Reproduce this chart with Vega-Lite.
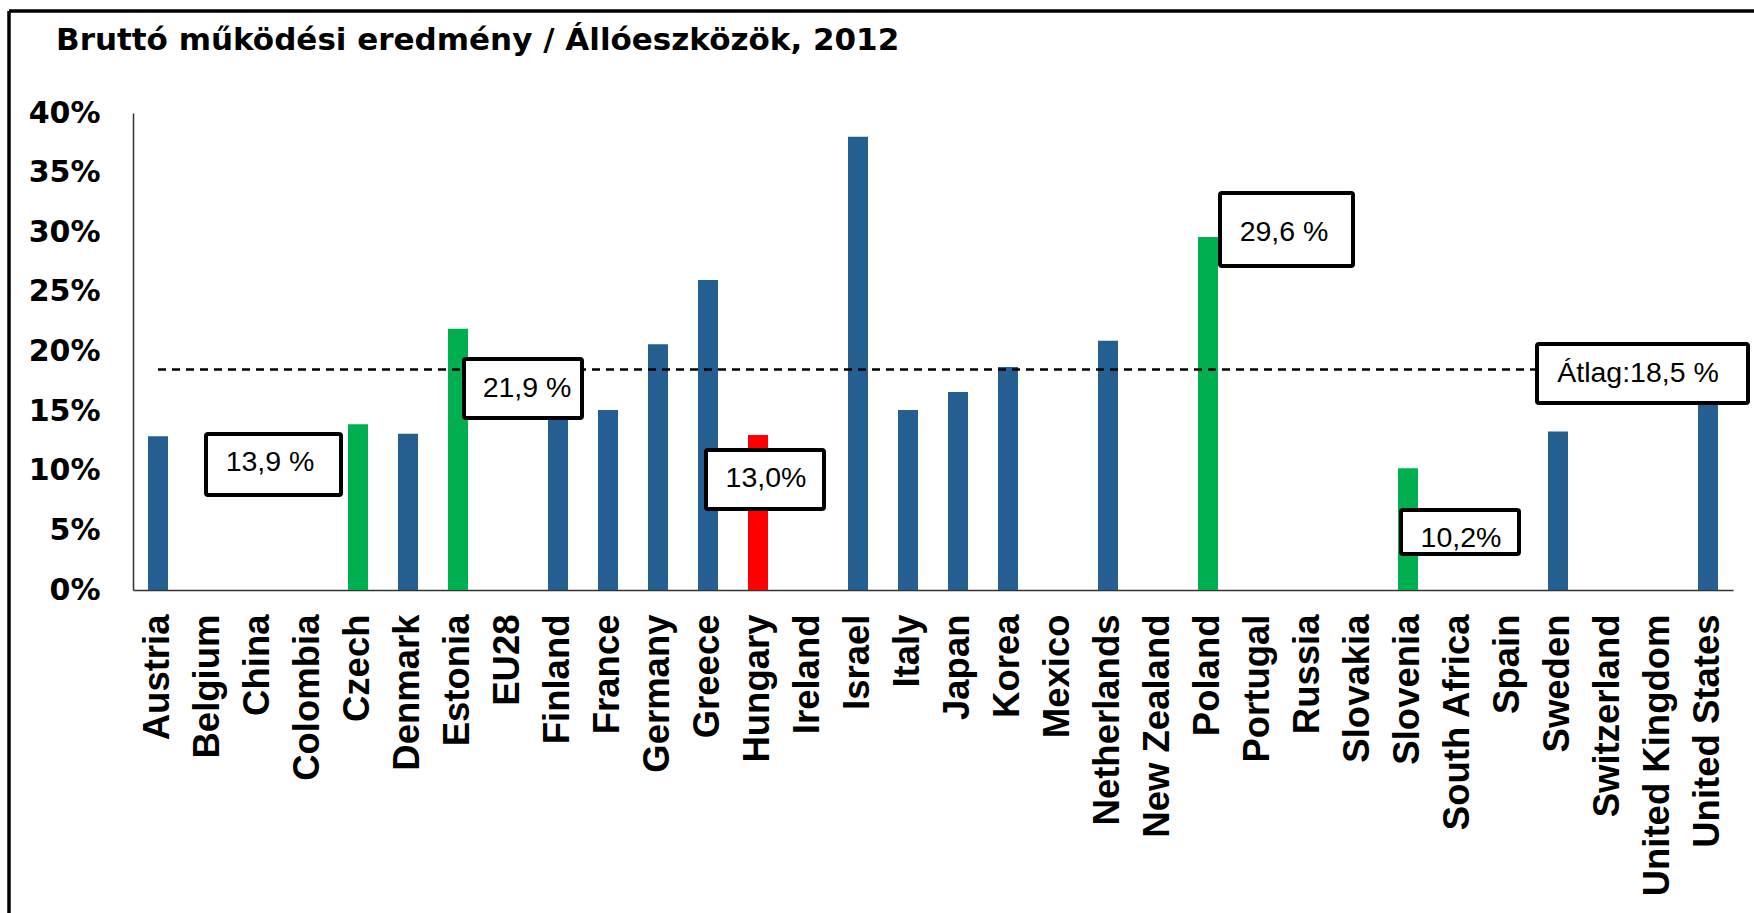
{
  "$schema": "https://vega.github.io/schema/vega-lite/v6.json",
  "autosize": {"type": "none"},
  "padding": {"left": 133, "top": 113, "right": 21, "bottom": 323},
  "width": 1600,
  "height": 477,
  "background": "#ffffff",
  "config": {"view": {"stroke": null}},
  "title": {
    "text": "Bruttó működési eredmény / Állóeszközök, 2012",
    "anchor": "start",
    "frame": "group",
    "dx": -77,
    "offset": -72,
    "baseline": "alphabetic",
    "font": "DejaVu Sans",
    "fontSize": 31,
    "fontWeight": "bold",
    "color": "#000000"
  },
  "layer": [
    {
      "data": {
        "values": [
          {"country": "Austria", "value": 0.129, "group": "egyéb"},
          {"country": "Belgium", "value": null, "group": "egyéb"},
          {"country": "China", "value": null, "group": "egyéb"},
          {"country": "Colombia", "value": null, "group": "egyéb"},
          {"country": "Czech", "value": 0.139, "group": "régió"},
          {"country": "Denmark", "value": 0.131, "group": "egyéb"},
          {"country": "Estonia", "value": 0.219, "group": "régió"},
          {"country": "EU28", "value": null, "group": "egyéb"},
          {"country": "Finland", "value": 0.165, "group": "egyéb"},
          {"country": "France", "value": 0.151, "group": "egyéb"},
          {"country": "Germany", "value": 0.206, "group": "egyéb"},
          {"country": "Greece", "value": 0.26, "group": "egyéb"},
          {"country": "Hungary", "value": 0.13, "group": "Magyarország"},
          {"country": "Ireland", "value": null, "group": "egyéb"},
          {"country": "Israel", "value": 0.38, "group": "egyéb"},
          {"country": "Italy", "value": 0.151, "group": "egyéb"},
          {"country": "Japan", "value": 0.166, "group": "egyéb"},
          {"country": "Korea", "value": 0.187, "group": "egyéb"},
          {"country": "Mexico", "value": null, "group": "egyéb"},
          {"country": "Netherlands", "value": 0.209, "group": "egyéb"},
          {"country": "New Zealand", "value": null, "group": "egyéb"},
          {"country": "Poland", "value": 0.296, "group": "régió"},
          {"country": "Portugal", "value": null, "group": "egyéb"},
          {"country": "Russia", "value": null, "group": "egyéb"},
          {"country": "Slovakia", "value": null, "group": "egyéb"},
          {"country": "Slovenia", "value": 0.102, "group": "régió"},
          {"country": "South Africa", "value": null, "group": "egyéb"},
          {"country": "Spain", "value": null, "group": "egyéb"},
          {"country": "Sweden", "value": 0.133, "group": "egyéb"},
          {"country": "Switzerland", "value": null, "group": "egyéb"},
          {"country": "United Kingdom", "value": null, "group": "egyéb"},
          {"country": "United States", "value": 0.17, "group": "egyéb"}
        ]
      },
      "mark": {"type": "bar"},
      "encoding": {
        "x": {
          "field": "country",
          "type": "nominal",
          "sort": null,
          "scale": {
            "domain": ["Austria","Belgium","China","Colombia","Czech","Denmark","Estonia","EU28","Finland","France","Germany","Greece","Hungary","Ireland","Israel","Italy","Japan","Korea","Mexico","Netherlands","New Zealand","Poland","Portugal","Russia","Slovakia","Slovenia","South Africa","Spain","Sweden","Switzerland","United Kingdom","United States"],
            "paddingInner": 0.6,
            "paddingOuter": 0.3
          },
          "axis": {
            "title": null,
            "labelAngle": -90,
            "labelAlign": "right",
            "labelBaseline": "middle",
            "labelPadding": 24,
            "ticks": false,
            "labelFont": "Liberation Sans",
            "labelFontSize": 36.5,
            "labelFontWeight": "bold",
            "labelColor": "#000000",
            "labelOverlap": false,
            "labelLimit": 400,
            "domainColor": "#333333",
            "domainWidth": 1.5
          }
        },
        "y": {
          "field": "value",
          "type": "quantitative",
          "scale": {"domain": [0, 0.4], "nice": false},
          "axis": {
            "title": null,
            "values": [0, 0.05, 0.1, 0.15, 0.2, 0.25, 0.3, 0.35, 0.4],
            "format": ".0%",
            "grid": false,
            "ticks": false,
            "labelPadding": 33,
            "labelFont": "DejaVu Sans",
            "labelFontSize": 30,
            "labelFontWeight": "bold",
            "labelColor": "#000000",
            "domainColor": "#333333",
            "domainWidth": 1.5
          }
        },
        "color": {
          "field": "group",
          "type": "nominal",
          "scale": {"domain": ["egyéb", "régió", "Magyarország"], "range": ["#255E91", "#00AF50", "#FF0000"]},
          "legend": null
        }
      }
    },
    {
      "encoding": {},
      "layer": [
        {
          "data": {"values": [{"label": "Átlag", "x1": 0.5, "x2": 31.5, "avg": 0.185}]},
          "mark": {"type": "rule", "color": "#000000", "strokeWidth": 2.5, "strokeDash": [8, 6]},
          "encoding": {
            "x": {"field": "x1", "type": "quantitative", "scale": {"domain": [0, 32], "nice": false, "zero": false}, "axis": null},
            "x2": {"field": "x2"},
            "y": {"field": "avg", "type": "quantitative", "scale": {"domain": [0, 0.4], "nice": false}}
          }
        },
        {
          "data": {
            "values": [
              {"label": "13,9 %", "x1": 1.46, "x2": 4.16, "y1": 0.1308, "y2": 0.0797, "tx": 2.74, "ty": 0.1073},
              {"label": "21,9 %", "x1": 6.62, "x2": 8.98, "y1": 0.1937, "y2": 0.1442, "tx": 7.88, "ty": 0.1694},
              {"label": "13,0%", "x1": 11.46, "x2": 13.82, "y1": 0.1174, "y2": 0.0679, "tx": 12.66, "ty": 0.0939},
              {"label": "29,6 %", "x1": 21.74, "x2": 24.4, "y1": 0.3329, "y2": 0.2717, "tx": 23.02, "ty": 0.3002},
              {"label": "10,2%", "x1": 25.36, "x2": 27.72, "y1": 0.0671, "y2": 0.0302, "tx": 26.56, "ty": 0.0436},
              {"label": "Átlag:18,5 %", "x1": 28.08, "x2": 32.3, "y1": 0.2063, "y2": 0.1568, "tx": 30.1, "ty": 0.182}
            ]
          },
          "layer": [
            {
              "mark": {"type": "rect", "fill": "#ffffff", "stroke": "#000000", "strokeWidth": 4, "cornerRadius": 2},
              "encoding": {
                "x": {"field": "x1", "type": "quantitative", "scale": {"domain": [0, 32], "nice": false, "zero": false}, "axis": null},
                "x2": {"field": "x2"},
                "y": {"field": "y1", "type": "quantitative", "scale": {"domain": [0, 0.4], "nice": false}},
                "y2": {"field": "y2"}
              }
            },
            {
              "mark": {"type": "text", "font": "Liberation Sans", "fontSize": 28.5, "color": "#000000", "align": "center", "baseline": "middle"},
              "encoding": {
                "x": {"field": "tx", "type": "quantitative", "scale": {"domain": [0, 32], "nice": false, "zero": false}, "axis": null},
                "y": {"field": "ty", "type": "quantitative", "scale": {"domain": [0, 0.4], "nice": false}},
                "text": {"field": "label"}
              }
            }
          ]
        },
        {
          "data": {
            "values": [
              {"edge": "top", "x1": -2.48, "x2": 33, "y1": 0.4855, "y2": 0.4855},
              {"edge": "left", "x1": -2.48, "x2": -2.48, "y1": 0.4855, "y2": -0.3}
            ]
          },
          "mark": {"type": "rule", "color": "#000000", "strokeWidth": 3.5},
          "encoding": {
            "x": {"field": "x1", "type": "quantitative", "scale": {"domain": [0, 32], "nice": false, "zero": false}, "axis": null},
            "x2": {"field": "x2"},
            "y": {"field": "y1", "type": "quantitative", "scale": {"domain": [0, 0.4], "nice": false}},
            "y2": {"field": "y2"}
          }
        }
      ]
    }
  ],
  "resolve": {"scale": {"x": "independent"}, "axis": {"x": "independent"}}
}
